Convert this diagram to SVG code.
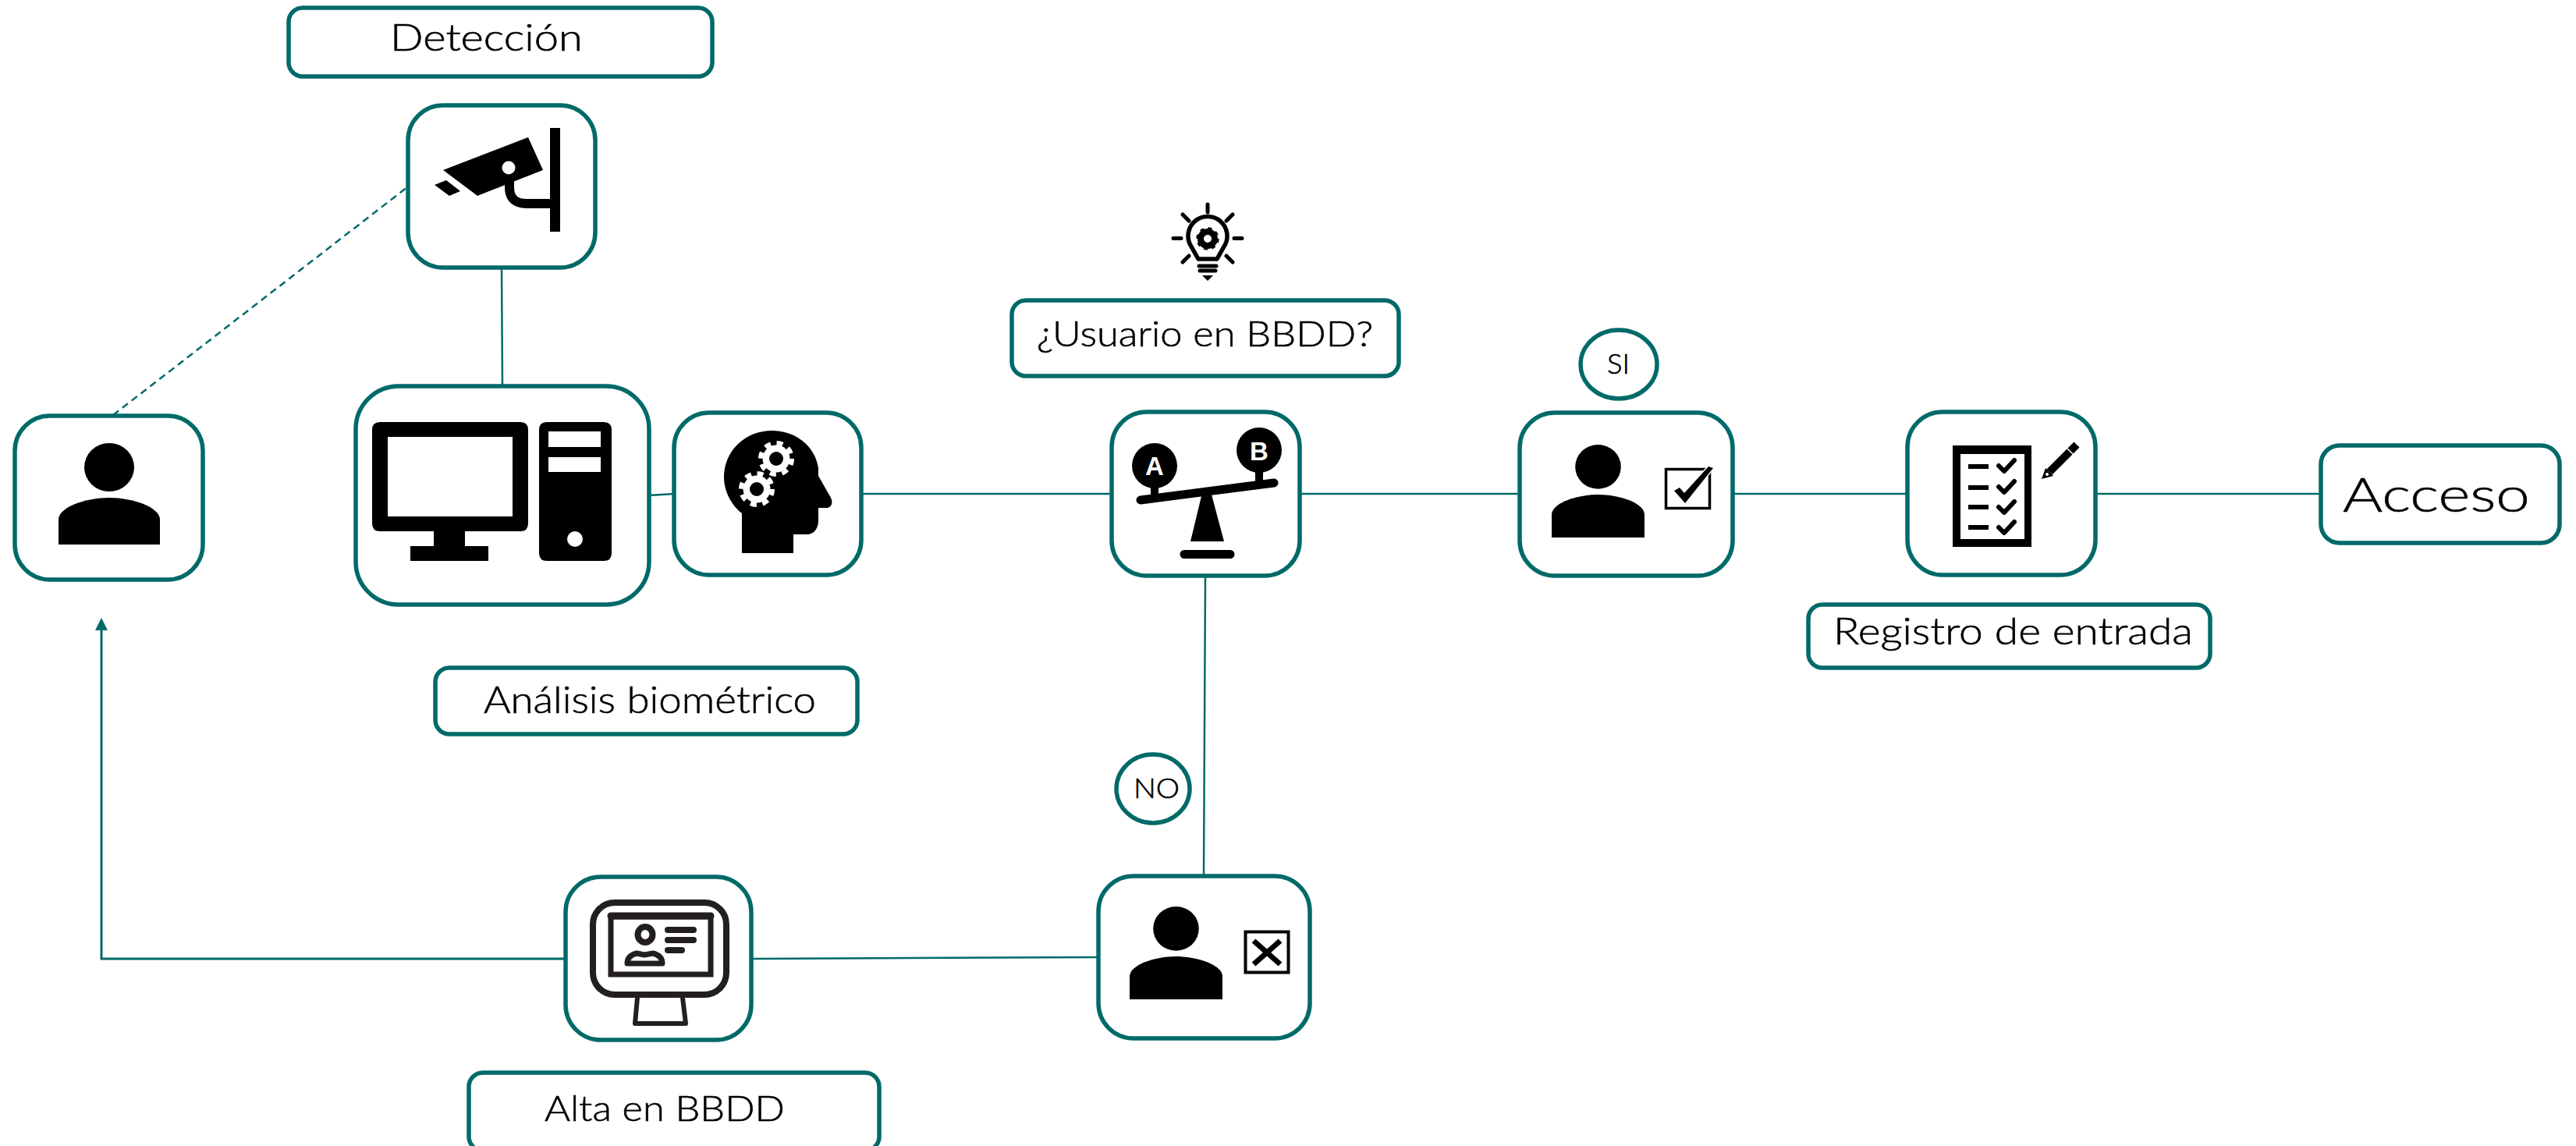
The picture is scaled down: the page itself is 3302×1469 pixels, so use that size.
<svg xmlns="http://www.w3.org/2000/svg" width="3302" height="1469" viewBox="0 0 3302 1469">
<style>
.box{fill:#fff;stroke:#006a68;stroke-width:5.5}
.conn{fill:none;stroke:#006a68;stroke-width:2.5}
.t{font-family:"Lato","Liberation Sans",sans-serif;font-weight:300;fill:#000;stroke:#000;stroke-width:.6;text-anchor:start}
.ic{fill:#000}
.ln{fill:none;stroke:#000;stroke-linecap:round;stroke-linejoin:round}
.dk{fill:none;stroke:#231f20;stroke-linecap:round;stroke-linejoin:round}
</style>
<defs>
<marker id="arrow" markerUnits="userSpaceOnUse" markerWidth="17" markerHeight="16" refX="1" refY="8" orient="auto"><path d="M0 0L16 8L0 16Z" fill="#006a68"/></marker>
<g id="person"><ellipse cx="65" cy="31" rx="32" ry="31"/><path d="M0 130V98C0 82 35 70 65 70C95 70 130 82 130 98V130Z"/></g>
<g id="gear"><circle r="17.5" fill="#fff"/><circle r="20" fill="none" stroke="#fff" stroke-width="6" stroke-dasharray="8 7.7"/><circle r="9" fill="#000"/></g>
</defs>
<g id="connectors">
<path class="conn" d="M145 532L522 240" stroke-dasharray="9 6"/>
<path class="conn" d="M643 343L644 495"/>
<path class="conn" d="M832 635L864 633"/>
<path class="conn" d="M1104 633H1425"/>
<path class="conn" d="M1666 633H1948"/>
<path class="conn" d="M2221 633H2445"/>
<path class="conn" d="M2686 633H2975"/>
<path class="conn" d="M1545 738L1543 1122"/>
<path class="conn" d="M1408 1227L963 1229"/>
<path class="conn" style="stroke-width:3" d="M725 1229H130V807" marker-end="url(#arrow)"/>
</g>
<g id="label-deteccion"><rect class="box" x="370" y="10" width="543" height="88" rx="18"/><text class="t" x="500" y="65" font-size="47" textLength="247" lengthAdjust="spacingAndGlyphs">Detección</text></g>
<g id="node-camera"><rect class="box" x="523" y="135" width="240" height="208" rx="45"/>
<path class="ic" d="M568 218L677 176L696 218L612 251ZM557 237L572 231L590 245L576 251ZM705 164H718V297H705Z"/>
<circle cx="652" cy="215" r="8.5" fill="#fff"/>
<path d="M653 232V240Q653 261 675 261H706" fill="none" stroke="#000" stroke-width="12"/></g>
<g id="node-person"><rect class="box" x="19" y="533" width="241" height="210" rx="45"/><use href="#person" transform="translate(75 568)" class="ic"/></g>
<g id="node-computer"><rect class="box" x="456" y="495" width="376" height="280" rx="55"/>
<path class="ic" fill-rule="evenodd" d="M487 541H667Q677 541 677 551V671Q677 681 667 681H596V700H626V719H526V700H556V681H487Q477 681 477 671V551Q477 541 487 541ZM497 560V662H657V560Z"/>
<path class="ic" fill-rule="evenodd" d="M701 541H774Q784 541 784 551V709Q784 719 774 719H701Q691 719 691 709V551Q691 541 701 541ZM703 553V573H770V553ZM703 586V605H770V586Z"/>
<circle cx="737" cy="691" r="10" fill="#fff"/></g>
<g id="node-brain"><rect class="box" x="864" y="529" width="240" height="208" rx="45"/>
<path class="ic" d="M951 709H1017V685H1034C1044 685 1049 677 1049 667V651H1060C1066 651 1068 644 1065 638L1049 610V600C1045 572 1020 552 990 552C955 552 928 578 928 612C928 630 938 648 951 658Z"/>
<use href="#gear" x="995" y="588"/><use href="#gear" x="970" y="627"/></g>
<g id="label-analisis"><rect class="box" x="558" y="856" width="541" height="85" rx="18"/><text class="t" x="620" y="914" font-size="47" textLength="426" lengthAdjust="spacingAndGlyphs">Análisis biométrico</text></g>
<g id="icon-bulb">
<path d="M1536 332L1527 316A25 25 0 1 1 1569 316L1560 332Z" fill="none" stroke="#000" stroke-width="5.5" stroke-linejoin="round"/>
<g class="ln" stroke-width="5"><path d="M1548 262V272M1504 305.500H1514M1582 305.500H1592M1516 275L1524 283M1580 275L1572 283M1516 336L1524 328M1580 336L1572 328M1537 341H1559M1538 347H1558"/></g>
<circle cx="1548" cy="306" r="9" fill="none" stroke="#000" stroke-width="8"/><circle cx="1548" cy="306" r="13" fill="none" stroke="#000" stroke-width="3.500" stroke-dasharray="5 5.200"/>
<path class="ic" d="M1541 353H1555L1548 360Z"/></g>
<g id="label-usuario"><rect class="box" x="1297" y="385" width="496" height="97" rx="18"/><text class="t" x="1329" y="444" font-size="46" textLength="431" lengthAdjust="spacingAndGlyphs">¿Usuario en BBDD?</text></g>
<g id="node-balance"><rect class="box" x="1425" y="528" width="241" height="210" rx="45"/>
<circle class="ic" cx="1480" cy="597" r="29"/><circle class="ic" cx="1614" cy="577" r="29"/>
<path d="M1462 641L1633 619" stroke="#000" stroke-width="11" stroke-linecap="round"/>
<path class="ic" d="M1475 620H1485V640H1475ZM1609 600H1619V620H1609ZM1540 636L1553 634L1569 694H1526ZM1518 705H1577A5.500 5.500 0 0 1 1577 716H1518A5.500 5.500 0 0 1 1518 705Z"/>
<text x="1480" y="609" font-family="Liberation Sans,sans-serif" font-weight="700" font-size="33" fill="#fff" text-anchor="middle">A</text>
<text x="1614" y="590" font-family="Liberation Sans,sans-serif" font-weight="700" font-size="33" fill="#fff" text-anchor="middle">B</text></g>
<g id="label-si"><ellipse class="box" cx="2075" cy="467" rx="49" ry="44"/><text class="t" x="2060" y="479" font-size="36" textLength="29" lengthAdjust="spacingAndGlyphs">SI</text></g>
<g id="node-check"><rect class="box" x="1948" y="529" width="273" height="209" rx="45"/>
<use href="#person" transform="translate(1989 570) scale(.915)" class="ic"/>
<rect x="2135.500" y="601.500" width="56" height="50" fill="none" stroke="#000" stroke-width="3.500"/>
<path d="M2146 629L2153 625L2159 632L2190 598L2196 600L2160 645Z" fill="#000" stroke="#fff" stroke-width="3" paint-order="stroke"/></g>
<g id="node-registro"><rect class="box" x="2445" y="528" width="241" height="209" rx="45"/>
<path class="ic" fill-rule="evenodd" d="M2503 571H2604V701H2503ZM2513 582V691H2595V582Z"/>
<path class="ic" d="M2523 595H2549V601H2523ZM2523 622H2549V628H2523ZM2523 647H2549V653H2523ZM2523 673H2549V679H2523Z"/>
<g class="ln" stroke-width="6"><path d="M2562 597L2569 604L2582 590M2562 624L2569 631L2582 617M2562 650L2569 657L2582 643M2562 676L2569 683L2582 669"/></g>
<path d="M2627 605L2662 570" stroke="#000" stroke-width="10"/>
<path d="M2649 574L2658 583" stroke="#fff" stroke-width="1.500"/>
<path class="ic" d="M2617 614L2622 600L2632 610Z"/><circle cx="2624" cy="608" r="2" fill="#fff"/></g>
<g id="label-acceso"><rect class="box" x="2975" y="571" width="306" height="125" rx="24"/><text class="t" x="3003" y="656" font-size="61" textLength="240" lengthAdjust="spacingAndGlyphs">Acceso</text></g>
<g id="label-registro"><rect class="box" x="2318" y="775" width="515" height="81" rx="18"/><text class="t" x="2350" y="826" font-size="47" textLength="461" lengthAdjust="spacingAndGlyphs">Registro de entrada</text></g>
<g id="label-no"><ellipse class="box" cx="1478" cy="1011" rx="47" ry="44"/><text class="t" x="1453" y="1023" font-size="36" textLength="59" lengthAdjust="spacingAndGlyphs">NO</text></g>
<g id="node-reject"><rect class="box" x="1408" y="1123" width="271" height="208" rx="45"/>
<use href="#person" transform="translate(1448 1162) scale(.915)" class="ic"/>
<rect x="1596.500" y="1194.500" width="55" height="52" fill="none" stroke="#000" stroke-width="4"/>
<path d="M1607 1206L1641 1236M1641 1206L1607 1236" stroke="#000" stroke-width="7"/></g>
<g id="node-alta"><rect class="box" x="725" y="1124" width="238" height="209" rx="45"/>
<g class="dk"><rect x="760" y="1157" width="171" height="118" rx="28" stroke-width="8"/>
<rect x="783" y="1175" width="128" height="74" stroke-width="7" stroke-linecap="butt" stroke-linejoin="miter"/>
<path d="M783 1174H911" stroke-width="9"/>
<ellipse cx="827" cy="1198" rx="9.500" ry="10" stroke-width="8"/>
<path d="M804 1235Q804 1225 816 1222L826 1224L837 1222Q849 1225 849 1235Z" stroke-width="7"/>
<path d="M856 1192H889M856 1205H889M856 1218H874" stroke-width="8"/>
<path d="M817 1279L814 1312H879L875 1279" stroke-width="6"/></g></g>
<g id="label-alta"><rect class="box" x="601" y="1375" width="526" height="100" rx="18"/><text class="t" x="698" y="1437" font-size="46" textLength="308" lengthAdjust="spacingAndGlyphs">Alta en BBDD</text></g>
</svg>
